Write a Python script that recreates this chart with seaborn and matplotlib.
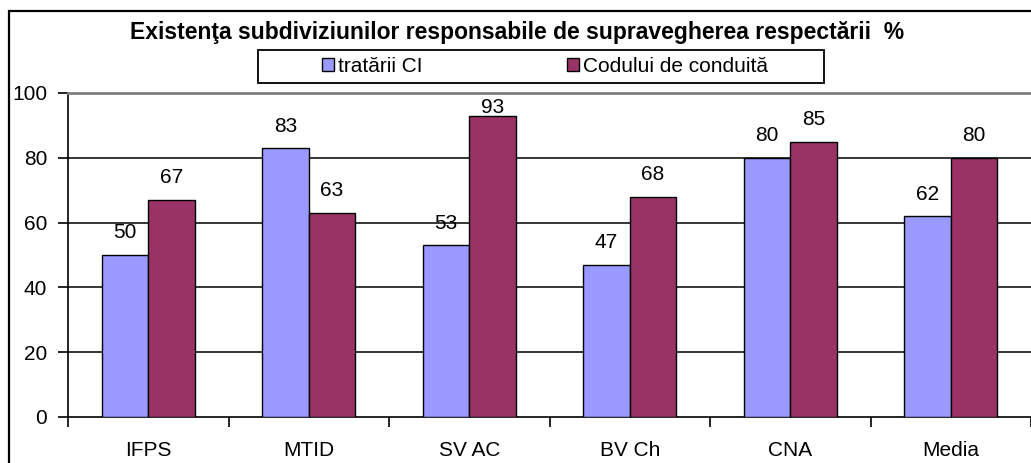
import matplotlib
matplotlib.use("Agg")
import matplotlib.pyplot as plt
from matplotlib.patches import Rectangle
import seaborn as sns
import pandas as pd
import numpy as np

categories = ["IFPS", "MTID", "SV AC", "BV Ch", "CNA", "Media"]
series_names = ["tratării CI", "Codului de conduită"]
tratarii_ci = [50, 83, 53, 47, 80, 62]
codului = [67, 63, 93, 68, 85, 80]
title = "Existenţa subdiviziunilor responsabile de supravegherea respectării  %"
yticks = [0, 20, 40, 60, 80, 100]

df = pd.DataFrame({
    "cat": categories * 2,
    "series": [series_names[0]] * len(categories) + [series_names[1]] * len(categories),
    "val": tratarii_ci + codului,
})

sns.set_theme(style="white")
plt.rcParams["font.family"] = ["Liberation Sans", "DejaVu Sans"]
plt.rcParams["text.color"] = "black"
plt.rcParams["xtick.color"] = "black"
plt.rcParams["ytick.color"] = "black"
plt.rcParams["axes.labelcolor"] = "black"

FS = 15
W, H = 1031, 463
fig = plt.figure(figsize=(W / 100, H / 100), dpi=100)
ax = fig.add_axes([68 / W, 1 - 417 / H, 1.0 - 68 / W, (417 - 93) / H])

palette = ["#9999FF", "#993366"]
sns.barplot(data=df, x="cat", y="val", hue="series", palette=palette, width=0.58,
            gap=0, edgecolor="black", linewidth=1.0, saturation=1, ax=ax, zorder=3)

handles, labels = ax.get_legend_handles_labels()
if ax.get_legend() is not None:
    ax.get_legend().remove()

ax.set_ylim(0, 100)
ax.set_xlim(-0.5, len(categories) - 0.5)
ax.set_xlabel("")
ax.set_ylabel("")

# gridlines
for t in yticks[1:-1]:
    ax.axhline(t, color="black", lw=1.1, zorder=1)

ax.spines["right"].set_visible(False)
ax.spines["top"].set_color("#808080")
ax.spines["top"].set_linewidth(2)
ax.spines["left"].set_color("black")
ax.spines["left"].set_linewidth(1.2)
ax.spines["bottom"].set_color("black")
ax.spines["bottom"].set_linewidth(1.2)

ax.set_yticks(yticks)
ax.set_yticklabels([str(t) for t in yticks], fontsize=FS, color="black")
ax.tick_params(axis="y", direction="out", length=7, width=1.2, color="black", labelcolor="black", pad=8, left=True)

ax.set_xticks(np.arange(-0.5, len(categories), 1.0))
ax.set_xticklabels([])
ax.set_xticks(np.arange(len(categories)), minor=True)
ax.set_xticklabels(categories, minor=True, fontsize=FS, color="black")
ax.tick_params(axis="x", which="major", direction="out", length=7, width=1.2, color="black", bottom=True)
ax.tick_params(axis="x", which="minor", length=0, pad=17, bottom=True, labelcolor="black")

# value labels
for cont in ax.containers:
    for bar in cont:
        v = bar.get_height()
        x = bar.get_x() + bar.get_width() / 2
        y = min(v + 6.8, 95.5)
        ax.text(x, y, f"{v:.0f}", ha="center", va="center", fontsize=FS, color="black", zorder=5)

# title
fig.text(517 / W, 1 - 33 / H, title, ha="center", va="center", fontsize=16.5,
         fontweight="bold", color="black")

# legend
leg = fig.legend(handles, labels, loc="center", bbox_to_anchor=(545 / W, 1 - 66 / H), ncol=2,
                 frameon=False, fontsize=FS, handlelength=0.58, handleheight=0.58,
                 handletextpad=0.2, columnspacing=6.9, borderpad=0.2, labelcolor="black")
for h in leg.legend_handles:
    h.set_edgecolor("black")
    h.set_linewidth(1.0)
fig.patches.append(Rectangle((258 / W, 1 - 83 / H), (824 - 258) / W, 33 / H,
                             transform=fig.transFigure, fill=False, edgecolor="black", lw=1.3))

# outer chart border
fig.patches.append(Rectangle((9 / W, -0.1), 1.2, 1.1 - 11 / H, transform=fig.transFigure,
                             fill=False, edgecolor="black", lw=1.6, clip_on=False))

fig.savefig("out.png", dpi=100)
